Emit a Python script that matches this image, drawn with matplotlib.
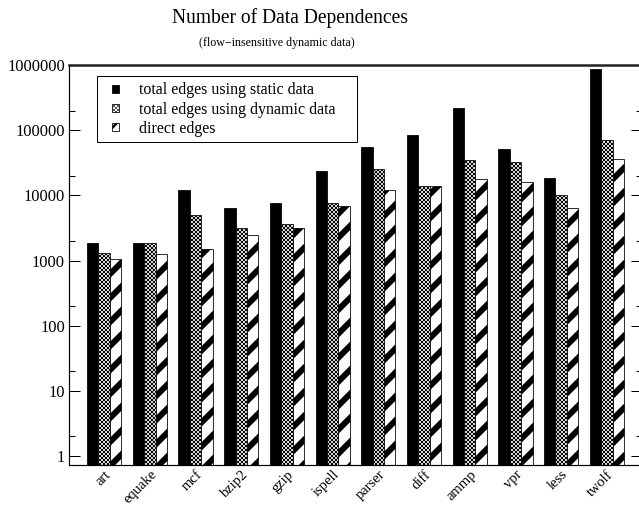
import matplotlib.pyplot as plt
from matplotlib.patches import Rectangle
import numpy as np

plt.rcParams['font.family'] = ['Liberation Serif', 'DejaVu Serif']
plt.rcParams['hatch.color'] = 'black'

benchmarks = ["art", "equake", "mcf", "bzip2", "gzip", "ispell",
              "parser", "diff", "ammp", "vpr", "less", "twolf"]
static_edges = [1840, 1870, 12000, 6500, 7700, 23300,
                54300, 85000, 219000, 51900, 18400, 883000]
dynamic_edges = [1320, 1870, 5000, 3200, 3600, 7600,
                 25600, 14000, 34300, 32400, 10300, 71400]
direct_edges = [1050, 1260, 1500, 2450, 3200, 6900,
                12000, 14000, 18100, 15900, 6400, 36500]

W, H = 639, 506
fig = plt.figure(figsize=(W / 72, H / 72), dpi=72)
ax = fig.add_axes([69 / W, 41 / H, 573 / W, 400 / H])

x = np.arange(len(benchmarks))
w = 0.25
base = 0.5

ax.bar(x - w, np.array(static_edges) - base, w, bottom=base,
       color="black", edgecolor="black", linewidth=0.8,
       label="total edges using static data")

plt.rcParams['hatch.linewidth'] = 0.8
ax.bar(x, np.array(dynamic_edges) - base, w, bottom=base,
       color="white", edgecolor="black", linewidth=0.8, hatch="xxxxxx",
       label="total edges using dynamic data")

# thick diagonal stripes
plt.rcParams['hatch.linewidth'] = 6
ax.bar(x + w, np.array(direct_edges) - base, w, bottom=base,
       color="white", edgecolor="black", linewidth=0.8, hatch="/",
       label="direct edges")

ax.set_yscale("log")
ax.set_ylim(0.73, 1e6)
ax.set_xlim(-0.77, 11.77)

ax.set_yticks([1, 10, 100, 1000, 10000, 100000, 1000000])
ax.set_yticklabels(["1", "10", "100", "1000", "10000", "100000", "1000000"])
ax.set_yticks([2 * 10 ** k for k in range(6)], minor=True)
ax.yaxis.set_minor_formatter(plt.NullFormatter())
ax.tick_params(axis="y", which="major", direction="in", length=11, width=1,
               labelsize=16.5, right=True, pad=4)
ax.tick_params(axis="y", which="minor", direction="in", length=6, width=1,
               right=True)

ax.set_xticks(x)
ax.set_xticklabels(benchmarks, rotation=45, ha="right",
                   rotation_mode="anchor", fontsize=14.5)
ax.tick_params(axis="x", length=0, pad=3)

ax.spines["top"].set_linewidth(2.5)
ax.spines["top"].set_color("#222222")
for s in ["left", "bottom", "right"]:
    ax.spines[s].set_linewidth(1.2)

# legend box drawn by hand, entries without frame
ax.add_patch(Rectangle((28 / 573, 1 - 142 / 400 + 65 / 400),
                       260 / 573, 66 / 400, transform=ax.transAxes,
                       facecolor="white", edgecolor="black", linewidth=1,
                       zorder=4))
leg = ax.legend(loc="upper left", bbox_to_anchor=(43 / 573, 1 - 17.5 / 400),
                fontsize=16, frameon=False,
                handlelength=0.42, handleheight=0.36, handletextpad=1.25,
                borderpad=0, labelspacing=0.2, borderaxespad=0)
leg.set_zorder(5)
hl = leg.legend_handles[1]
if hasattr(hl, "set_hatch_linewidth"):
    hl.set_hatch_linewidth(0.5)
else:
    hl._hatch_linewidth = 0.5
hd = leg.legend_handles[2]
if hasattr(hd, "set_hatch_linewidth"):
    hd.set_hatch_linewidth(2.5)
else:
    hd._hatch_linewidth = 2.5

fig.text(290 / W, 1 - 18 / H, "Number of Data Dependences",
         ha="center", va="center", fontsize=19.5)
fig.text(277 / W, 1 - 43 / H, "(flow\u2212insensitive dynamic data)",
         ha="center", va="center", fontsize=12)

fig.savefig("out.png", dpi=72)
